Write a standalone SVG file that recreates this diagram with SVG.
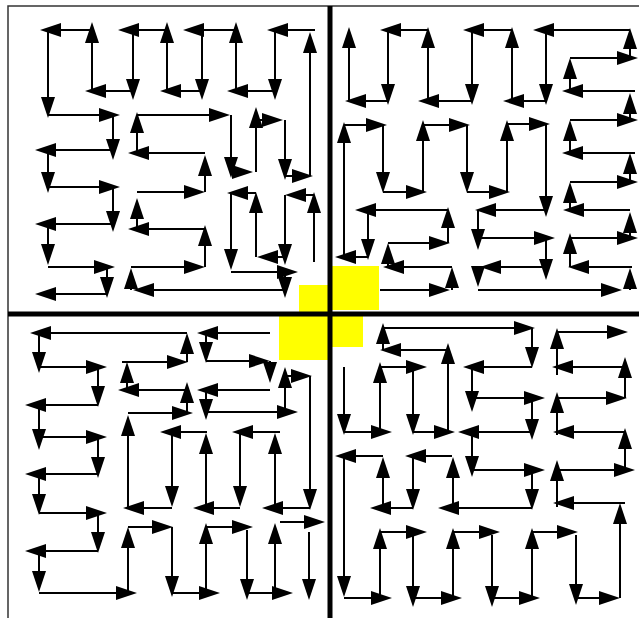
<svg xmlns="http://www.w3.org/2000/svg" width="639" height="618" viewBox="0 0 639 618">
<defs>
<marker id="h" markerUnits="userSpaceOnUse" markerWidth="21" markerHeight="14" refX="13" refY="7" orient="auto" overflow="visible"><path d="M0,0 L21,7 L0,14 z" fill="#000"/></marker>
</defs>
<style>
.c path{fill:none;stroke:#000;stroke-width:2;marker-end:url(#h)}
.frame{fill:none;stroke:#333;stroke-width:1.5}
.axis{fill:none;stroke:#000;stroke-width:5}
.hl rect{fill:#ffff00}
</style>
<rect width="639" height="618" fill="#fff"/>
<g id="highlights" class="hl">
<rect x="299" y="285" width="31" height="29"/>
<rect x="332" y="266" width="47" height="44"/>
<rect x="279" y="316" width="51" height="44"/>
<rect x="330" y="316" width="33" height="31"/>
</g>
<g id="frame">
<path class="frame" d="M8 618V6H639"/>
<path class="axis" d="M330 6V618M8 314H639"/>
</g>
<g id="connectors" class="c">
<g id="path-upper-left">
<path d="M314 262V200"/><path d="M314 195H293"/><path d="M285 195V257"/><path d="M285 257H265"/>
<path d="M256 257V200"/><path d="M256 193H235"/><path d="M231 193V262"/><path d="M231 272H290"/>
<path d="M285 272V290"/><path d="M285 290H141"/><path d="M131 290V276"/><path d="M131 267H197"/>
<path d="M205 267V233"/><path d="M205 229H136"/><path d="M137 229V206"/><path d="M137 192H197"/>
<path d="M205 192V163"/><path d="M205 153H136"/><path d="M137 153V120"/><path d="M137 115H222"/>
<path d="M231 115V170"/><path d="M231 172H245"/><path d="M256 172V115"/><path d="M256 120H275"/>
<path d="M285 120V172"/><path d="M285 176H305"/><path d="M310 176V40"/><path d="M315 30H275"/>
<path d="M275 30V92"/><path d="M275 91H235"/><path d="M236 91V30"/><path d="M236 30H191"/>
<path d="M202 30V92"/><path d="M202 91H168"/><path d="M167 91V30"/><path d="M167 30H126"/>
<path d="M133 30V92"/><path d="M133 91H93"/><path d="M92 91V30"/><path d="M92 30H48"/>
<path d="M48 30V110"/><path d="M48 115H112"/><path d="M113 115V152"/><path d="M113 150H43"/>
<path d="M48 150V185"/><path d="M48 187H112"/><path d="M113 187V224"/><path d="M113 224H43"/>
<path d="M48 224V257"/><path d="M48 267H107"/><path d="M107 267V290"/><path d="M107 294H43"/>
</g>
<g id="path-upper-right">
<path d="M380 290H442"/><path d="M452 290V275"/><path d="M452 267H391"/><path d="M388 267V251"/>
<path d="M388 243H442"/><path d="M448 243V215"/><path d="M448 210H363"/><path d="M368 210V252"/>
<path d="M368 257H343"/><path d="M344 257V130"/><path d="M344 125H379"/><path d="M383 125V185"/>
<path d="M383 192H419"/><path d="M423 192V128"/><path d="M423 125H462"/><path d="M467 125V185"/>
<path d="M467 192H502"/><path d="M507 192V128"/><path d="M507 124H542"/><path d="M546 124V209"/>
<path d="M546 210H483"/><path d="M478 210V242"/><path d="M478 238H547"/><path d="M546 238V272"/>
<path d="M546 267H488"/><path d="M478 267V279"/><path d="M478 290H614"/><path d="M630 290V276"/>
<path d="M632 267H576"/><path d="M570 267V241"/><path d="M570 238H630"/><path d="M630 238V220"/>
<path d="M630 210H571"/><path d="M570 210V190"/><path d="M570 182H630"/><path d="M630 182V161"/>
<path d="M635 153H570"/><path d="M570 153V128"/><path d="M570 120H630"/><path d="M630 120V101"/>
<path d="M635 91H570"/><path d="M570 91V66"/><path d="M570 58H630"/><path d="M630 58V36"/>
<path d="M630 30H541"/><path d="M546 30V97"/><path d="M546 101H511"/><path d="M512 101V35"/>
<path d="M512 30H471"/><path d="M472 30V97"/><path d="M472 101H426"/><path d="M428 101V35"/>
<path d="M428 30H388"/><path d="M388 30V97"/><path d="M388 101H353"/><path d="M349 101V35"/>
</g>
<g id="path-lower-left">
<path d="M270 333H205"/><path d="M206 333V355"/><path d="M206 361H262"/><path d="M270 361V375"/>
<path d="M270 390H205"/><path d="M206 390V412"/><path d="M206 412H290"/><path d="M285 412V375"/>
<path d="M285 376H304"/><path d="M310 376V502"/><path d="M310 508H270"/><path d="M275 508V441"/>
<path d="M280 432H240"/><path d="M240 432V499"/><path d="M240 508H201"/><path d="M206 508V441"/>
<path d="M207 432H168"/><path d="M172 432V499"/><path d="M172 508H131"/><path d="M128 508V423"/>
<path d="M128 413H185"/><path d="M187 413V390"/><path d="M187 390H126"/><path d="M127 390V370"/>
<path d="M122 362H180"/><path d="M187 362V341"/><path d="M187 333H38"/><path d="M39 333V365"/>
<path d="M39 367H99"/><path d="M98 367V399"/><path d="M98 405H33"/><path d="M39 405V442"/>
<path d="M39 437H99"/><path d="M98 437V470"/><path d="M98 474H33"/><path d="M39 474V507"/>
<path d="M39 513H99"/><path d="M98 513V545"/><path d="M98 551H33"/><path d="M39 551V584"/>
<path d="M39 593H129"/><path d="M128 593V535"/><path d="M128 527H165"/><path d="M172 527V589"/>
<path d="M172 593H212"/><path d="M206 593V531"/><path d="M206 527H245"/><path d="M247 530V592"/>
<path d="M247 593H285"/><path d="M275 593V531"/><path d="M280 522H317"/><path d="M309 532V592"/>
</g>
<g id="path-lower-right">
<path d="M344 367V427"/><path d="M344 432H384"/><path d="M380 432V370"/><path d="M380 367H419"/>
<path d="M413 367V427"/><path d="M413 432H447"/><path d="M448 432V351"/><path d="M448 350H388"/>
<path d="M383 350V331"/><path d="M383 328H527"/><path d="M532 328V360"/><path d="M532 367H471"/>
<path d="M472 367V404"/><path d="M472 398H537"/><path d="M532 398V432"/><path d="M532 432H466"/>
<path d="M472 432V469"/><path d="M472 470H537"/><path d="M532 470V502"/><path d="M532 508H446"/>
<path d="M453 508V465"/><path d="M452 456H413"/><path d="M413 456V502"/><path d="M413 508H378"/>
<path d="M383 508V465"/><path d="M383 456H343"/><path d="M344 456V589"/><path d="M344 598H384"/>
<path d="M380 598V536"/><path d="M380 532H419"/><path d="M413 532V599"/><path d="M413 598H454"/>
<path d="M453 598V536"/><path d="M453 532H492"/><path d="M492 535V599"/><path d="M492 598H532"/>
<path d="M532 598V536"/><path d="M532 532H570"/><path d="M576 535V597"/><path d="M575 598H612"/>
<path d="M620 598V511"/><path d="M625 503H561"/><path d="M557 507V468"/><path d="M558 470H627"/>
<path d="M625 472V436"/><path d="M625 432H561"/><path d="M557 435V400"/><path d="M557 398H619"/>
<path d="M625 398V365"/><path d="M627 367H560"/><path d="M557 375V336"/><path d="M557 332H620"/>
</g>
</g>
</svg>
